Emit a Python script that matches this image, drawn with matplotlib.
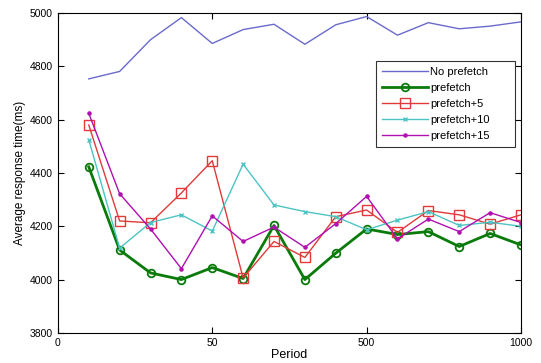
import matplotlib
matplotlib.use("Agg")
import matplotlib.pyplot as plt

plt.rcParams['font.family'] = ['Liberation Sans', 'DejaVu Sans']

# data
periods = [10, 20, 30, 40, 50, 60, 70, 80, 90, 100, 110, 120, 130, 140, 150]
xtick_pos = [0, 50, 100, 150]
xtick_labels = ["0", "50", "500", "1000"]

no_prefetch = [4753, 4781, 4900, 4983, 4886, 4938, 4958, 4883, 4956, 4987,
               4917, 4964, 4941, 4951, 4967]
prefetch = [4423, 4111, 4025, 4000, 4045, 4004, 4203, 4000, 4099, 4190,
            4169, 4180, 4124, 4173, 4130]
prefetch5 = [4580, 4220, 4213, 4325, 4446, 4006, 4143, 4083, 4236, 4261,
             4177, 4259, 4243, 4208, 4243]
prefetch10 = [4525, 4118, 4214, 4243, 4182, 4433, 4280, 4255, 4236, 4187,
              4223, 4255, 4203, 4215, 4200]
prefetch15 = [4624, 4322, 4190, 4041, 4239, 4143, 4197, 4121, 4210, 4312,
              4153, 4227, 4180, 4251, 4214]

fig = plt.figure(figsize=(5.41, 3.63), dpi=100)
ax = fig.add_axes([0.107, 0.083, 0.856, 0.881])

ax.plot(periods, no_prefetch, color='#6a6acd', lw=1.0, label='No prefetch')
ax.plot(periods, prefetch, color='#0a7a0a', lw=2.0, marker='o', ms=5.5,
        mfc='none', mec='#0a7a0a', mew=1.3, label='prefetch')
ax.plot(periods, prefetch5, color='#e03a3a', lw=1.0, marker='s', ms=6.5,
        mfc='none', mec='#e03a3a', mew=1.0, label='prefetch+5')
ax.plot(periods, prefetch10, color='#4cc4c4', lw=1.0, marker='x', ms=3.5,
        mew=1.0, label='prefetch+10')
ax.plot(periods, prefetch15, color='#b010b0', lw=1.0, marker='.', ms=4.5,
        label='prefetch+15')

ax.set_xlim(0, 150)
ax.set_ylim(3800, 5000)
ax.set_xticks(xtick_pos)
ax.set_xticklabels(xtick_labels)
ax.set_yticks([3800, 4000, 4200, 4400, 4600, 4800, 5000])
ax.tick_params(direction='in', top=True, right=True, labelsize=7.5,
               length=4, width=0.8)
ax.set_xlabel('Period', fontsize=9, labelpad=1)
ax.set_ylabel('Average response time(ms)', fontsize=8.5, labelpad=3)

# legend box stretched to the width it has in the reference
leg = ax.legend(loc='upper left', bbox_to_anchor=(0.687, 0.58, 0.30, 0.27),
                mode='expand', fontsize=8,
                frameon=True, fancybox=False, edgecolor='black',
                handlelength=4.2, handletextpad=0.2, borderpad=0.5,
                labelspacing=0.55, borderaxespad=0)
leg.get_frame().set_linewidth(0.8)

fig.savefig('out.png', dpi=100)
